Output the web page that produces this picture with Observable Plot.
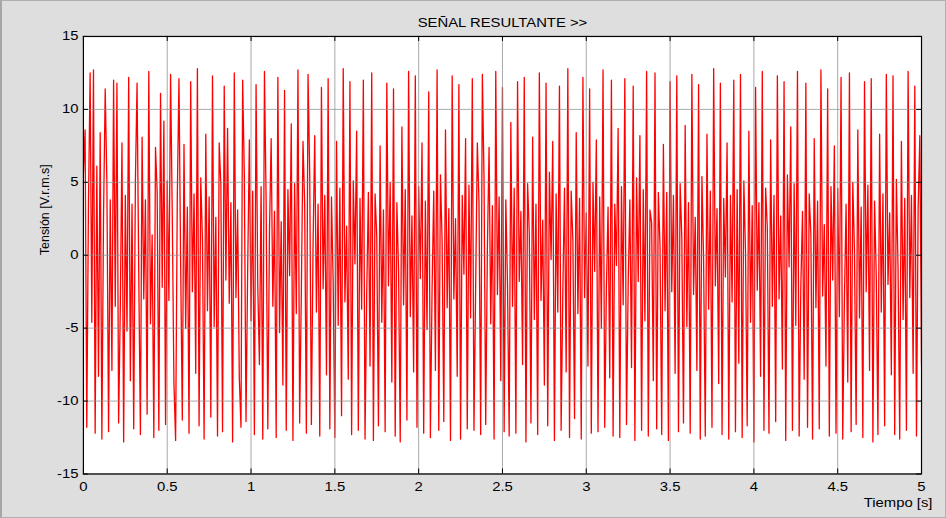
<!DOCTYPE html>
<html>
<head>
<meta charset="utf-8">
<script src="https://cdn.jsdelivr.net/npm/d3@7"></script>
<script src="https://cdn.jsdelivr.net/npm/@observablehq/plot@0.6"></script>
<style>
html, body { margin: 0; padding: 0; background: #dedede; }
#fig {
  position: relative; width: 946px; height: 518px; box-sizing: border-box;
  background: #dedede; overflow: hidden;
  border-left: 2px solid #a6a6a6; border-top: 1px solid #b0b0b0;
  border-right: 1px solid #b0b0b0; border-bottom: 1px solid #b0b0b0;
}
#plot { position: absolute; left: -2px; top: -1px; }
</style>
</head>
<body>
<div id="fig"><div id="plot"></div></div>
<script>
// Chart text
const title = "SEÑAL RESULTANTE >>";
const xLabel = "Tiempo [s]";
const yLabel = "Tensión [V.r.m.s]";

// Tick values
const xTicks = [0, 0.5, 1, 1.5, 2, 2.5, 3, 3.5, 4, 4.5, 5];
const yTicks = [-15, -10, -5, 0, 5, 10, 15];

// Sampling interval of the signal (s)
const dt = 0.01;

// Signal values (V), one per sample (501 samples, 0..5 s)
const tension = [
  5.6, 8.6, -11.8, 3.4, 12.5, -4.6, 12.7, -12.2, 6.1, -8.3, 8.4, -12.6, 2.7, 11.4, 4.9, -12.1, 3.8, -7.9, 12.0, -3.5,
  11.8, -11.5, -3.6, 7.7, -12.8, 4.1, -5.2, 12.2, -8.6, 3.5, -11.9, 5.0, 11.8, -1.2, -12.3, 8.1, -3.0, 3.8, -10.9, 12.6,
  -4.7, 1.4, -12.5, 7.4, 4.3, -12.0, 11.1, -2.2, 9.2, -11.6, 5.1, -3.1, 12.4, 2.8, -8.8, -12.7, 3.9, 12.1, -0.5, -11.3,
  7.6, -5.0, 3.3, -12.2, 11.9, -2.5, 4.2, -8.1, 12.8, -11.7, 5.3, 1.1, -12.6, 8.3, -3.8, 4.0, -11.1, 12.3, -4.9, 2.6,
  -12.4, 7.7, 4.8, -12.1, 11.6, -1.7, 8.7, -3.3, 3.6, -12.8, 12.5, -2.9, 3.1, -8.4, -11.8, 12.0, 5.4, -11.4, -0.9, 7.9,
  -4.5, 4.4, -12.3, 11.7, -2.0, -7.5, 4.7, -12.6, 12.6, 3.7, -11.9, 1.6, 8.0, -3.5, 3.0, -12.5, 12.2, -5.3, 2.3, -8.9,
  11.3, -12.0, 4.5, -1.4, 9.0, -12.7, 4.9, -4.0, 12.7, -11.5, -2.6, 7.8, 3.4, -12.2, 12.4, 5.6, -11.6, 0.7, 8.2, -3.9,
  3.5, -12.4, 11.5, -2.3, 4.1, -8.2, 12.1, -11.9, 4.0, -1.9, -12.5, 7.8, -4.8, 4.6, -11.0, 12.8, -3.2, 2.0, -8.5, 11.9,
  -12.3, 5.1, -0.6, 8.5, -12.0, 3.9, -3.7, 12.0, -12.6, -2.8, 4.3, -7.6, 12.5, -12.7, 4.2, 1.3, -11.7, 7.5, -4.6, 3.1,
  -12.1, 11.8, -2.1, 5.0, -8.7, 11.4, -12.4, 3.6, -1.0, -12.8, 8.8, -3.4, 4.5, -11.3, 12.6, -4.2, 2.7, -8.0, 12.3, -11.8,
  4.7, -1.6, 7.7, -12.2, 3.7, -5.1, 11.2, -12.5, -2.4, 4.4, -7.9, 12.7, -12.0, 5.5, 0.9, -11.4, 8.6, -3.6, 3.2, -12.7,
  12.3, -3.0, 2.5, -8.3, 11.7, -12.6, 4.1, -1.3, 8.0, -11.9, 4.8, -4.3, 12.1, -12.0, -2.2, 7.7, 3.6, -12.3, 12.4, 5.2,
  -11.6, 0.4, 7.4, -4.7, 3.4, -12.6, 12.6, -2.7, 4.0, -8.6, 11.5, -12.1, 3.8, -2.0, -12.4, 9.1, -3.5, 4.6, -12.2, 11.9,
  -1.8, 3.0, -7.5, 12.2, -12.8, 4.9, 1.5, -11.5, 8.1, -4.4, 3.5, -12.3, 12.5, -3.1, 2.4, -8.9, 11.8, -11.7, 5.7, -0.3,
  7.8, -12.7, 4.2, -3.9, 11.6, -12.0, -2.6, 4.6, -8.0, 12.8, -12.5, 4.4, 1.0, -11.2, 8.4, -4.0, 3.9, -12.6, 12.2, -2.9,
  2.9, -7.6, 11.4, -12.2, 5.0, -1.1, 7.9, -12.1, 4.0, -5.0, 12.7, -11.8, -2.3, 3.3, -8.4, 12.0, -12.4, 3.5, -0.7, 8.7,
  -12.5, 4.7, -3.4, 12.1, -11.6, -2.0, 3.8, -7.7, 11.6, -12.7, 5.3, -1.8, 8.2, -12.0, 4.5, -4.5, 12.6, -12.4, 3.1, 2.2,
  -8.6, 12.5, -11.9, 4.3, 0.6, -12.3, 7.6, -3.8, 4.3, -12.7, 11.9, -2.5, 4.1, -8.1, 12.3, -12.1, 4.9, 1.2, -11.5, 8.9,
  -4.9, 3.6, -12.2, 12.4, -2.7, 2.6, -7.9, 11.7, -12.6, 5.4, -0.4, -12.4, 8.3, -3.7, 4.4, -11.8, 12.8, -2.1, 3.2, -8.8,
  11.8, -12.3, 3.9, -1.5, 7.7, -12.6, 4.1, -3.2, 12.0, -12.1, 4.5, -7.4, 12.4, -12.5, 5.1, 0.2, -11.7, 8.5, -4.6, 3.4,
  -12.8, 11.5, -2.4, 3.6, -8.3, 12.6, -12.0, 4.6, 1.9, -12.2, 7.9, -3.5, 4.1, -11.4, 12.3, -3.0, 2.7, -7.8, 11.9, -12.7,
  5.5, -0.8, 8.8, -12.0, 4.9, -4.8, 12.6, -12.4, -2.2, 3.0, -8.5, 11.8, -11.8, 4.2, 1.4, -12.6, 8.0, -3.6, 3.7, -11.9,
  12.7, -2.8, 2.1, -7.6, 11.4, -12.4, 4.7, -1.7, 7.5, -12.2, 4.6, -4.2, 12.2, -12.6, -3.1, 3.5, -8.7, 12.5, -12.1, 5.0,
  0.3, -11.6, 8.6, -4.3, 3.3, -12.5, 11.9, -2.5, 4.8, -7.9, 12.1, -12.8, 3.7, -1.4, -12.3, 8.3, -3.9, 4.2, -11.7, 12.4,
  -2.0, 2.9, -8.2, 12.3, -12.3, 5.2, -0.9, -12.6, 7.8, -4.4, 3.9, -12.0, 12.6, -2.9, 4.1, -8.1, 11.6, -12.4, 3.3, 8.2,
  -7.5
];

const W = 946, H = 518;
const mL = 83, mR = 24, mT = 36, mB = 44;
const plotW = W - mL - mR, plotH = H - mT - mB;
const tickLen = 5;
const font = "'Liberation Sans', Arial, sans-serif";

const chart = Plot.plot({
  width: W, height: H,
  marginLeft: mL, marginRight: mR, marginTop: mT, marginBottom: mB,
  style: { background: "transparent", fontFamily: font, fontSize: "12.5px", color: "black" },
  x: { domain: [0, 5] },
  y: { domain: [-15, 15] },
  marks: [
    Plot.frame({ fill: "white" }),
    Plot.lineY(tension, { x: (d, i) => i * dt, y: d => d, stroke: "#ff0000", strokeWidth: 1.3, clip: true }),
    Plot.gridX(xTicks, { stroke: "#8c8c8c", strokeOpacity: 0.75, strokeWidth: 1 }),
    Plot.gridY(yTicks, { stroke: "#8c8c8c", strokeOpacity: 0.75, strokeWidth: 1 }),
    Plot.tickX(xTicks, { x: d => d, insetTop: plotH - tickLen, stroke: "black" }),
    Plot.tickX(xTicks, { x: d => d, insetBottom: plotH - tickLen, stroke: "black" }),
    Plot.tickY(yTicks, { y: d => d, insetRight: plotW - tickLen, stroke: "black" }),
    Plot.tickY(yTicks, { y: d => d, insetLeft: plotW - tickLen, stroke: "black" }),
    Plot.frame({ stroke: "black", strokeWidth: 1.2 }),
    Plot.axisX(xTicks, { tickSize: 0, tickPadding: 8, tickFormat: d => String(d), label: null }),
    Plot.axisY(yTicks, { tickSize: 0, tickPadding: 5, tickFormat: d => String(d), label: null }),
    Plot.text([title], { text: d => d, frameAnchor: "top", dy: -18, fontSize: 12.5 }),
    Plot.text([yLabel], { text: d => d, frameAnchor: "left", dx: -38, rotate: -90, fontSize: 12.5 }),
    Plot.text([xLabel], { text: d => d, frameAnchor: "bottom-right", textAnchor: "end", dx: 11, dy: 33, fontSize: 12.5 })
  ]
});
document.getElementById("plot").appendChild(chart);

// The reference's horizontal text is drawn about 19% wider than its height suggests
chart.querySelectorAll("text").forEach(t => {
  if (t.textContent === yLabel) return;
  const len = t.getComputedTextLength();
  if (len > 0) {
    t.setAttribute("textLength", (len * 1.19).toFixed(1));
    t.setAttribute("lengthAdjust", "spacingAndGlyphs");
  }
});
</script>
</body>
</html>
